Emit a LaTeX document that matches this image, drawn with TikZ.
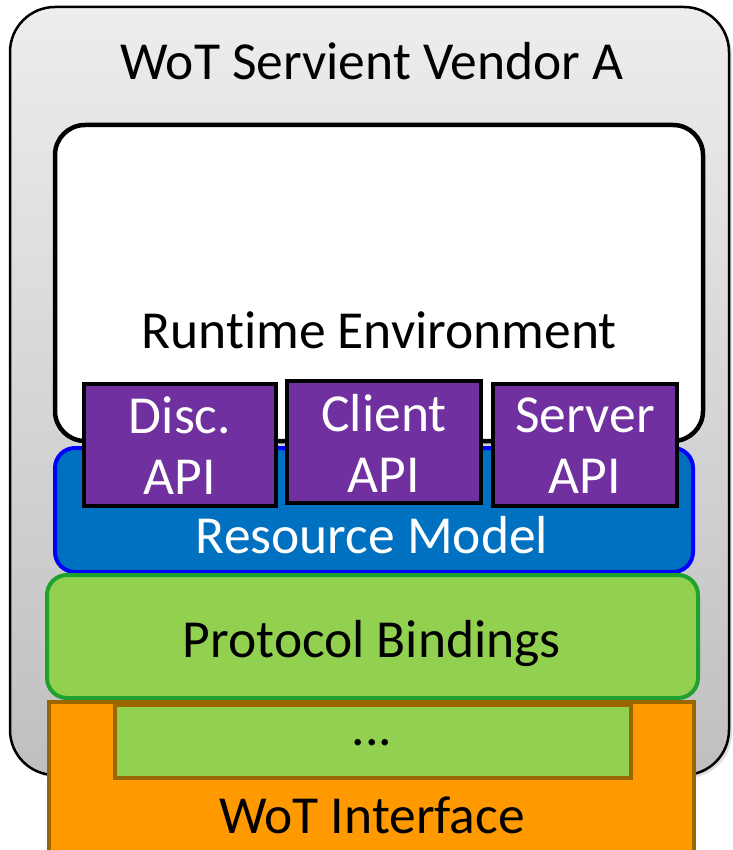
\documentclass[tikz,border=0pt]{standalone}
\usepackage{fontspec}
\setmainfont{Carlito}[Ligatures=NoCommon]
\usetikzlibrary{shadows}
\definecolor{apipurple}{HTML}{7030A0}
\definecolor{resblue}{HTML}{0070C0}
\definecolor{resborder}{HTML}{0000FF}
\definecolor{bindgreen}{HTML}{92D050}
\definecolor{bindborder}{HTML}{1EA12E}
\definecolor{ifaceorange}{HTML}{FF9900}
\definecolor{ifaceborder}{HTML}{996600}
\tikzset{
  bigtext/.style={font=\fontsize{53.5}{61}\selectfont},
  box/.style={draw, inner sep=0pt, outer sep=0pt},
  apibox/.style={box, fill=apipurple, line width=4.5pt},
  apitext/.style={bigtext, text=white, align=center, inner sep=0pt},
  lbl/.style={bigtext, anchor=base, inner sep=0pt},
}
\begin{document}
\begin{tikzpicture}[x=1pt,y=-1pt]
\useasboundingbox (0,0) rectangle (732,850);
% outer servient box
\node[box, line width=2.5pt, rounded corners=45pt, top color=black!7, bottom color=black!25,
      drop shadow={opacity=0.25, shadow xshift=3pt, shadow yshift=-3pt},
      minimum width=719pt, minimum height=768pt] (servient) at (369.5,391) {};
\node[lbl] (title) at (372,80) {WoT Servient Vendor A};
% runtime environment
\node[box, line width=4.5pt, fill=white, rounded corners=30pt,
      minimum width=648pt, minimum height=316pt] (runtime) at (379,283) {};
\node[lbl] (runtimelbl) at (379,348) {Runtime Environment};
% resource model
\node[box, line width=4pt, draw=resborder, fill=resblue, rounded corners=20pt,
      minimum width=638pt, minimum height=124pt] (resmodel) at (374,510) {};
\node[lbl, text=white] (reslbl) at (372,553) {Resource Model};
% API boxes
\node[apibox, minimum width=192pt, minimum height=122pt] (disc) at (180,445) {};
\node[apitext] (disclbl) at (180,446) {Disc.\\API};
\node[apibox, minimum width=194pt, minimum height=122pt] (client) at (384,442) {};
\node[apitext] (clientlbl) at (384,443) {Client\\API};
\node[apibox, minimum width=184pt, minimum height=122pt] (server) at (585,445) {};
\node[apitext] (serverlbl) at (585,446) {Server\\API};
% protocol bindings
\node[box, line width=4pt, draw=bindborder, fill=bindgreen, rounded corners=20pt,
      minimum width=651pt, minimum height=123pt] (bindings) at (372.5,636.5) {};
\node[lbl] (bindlbl) at (372,657) {Protocol Bindings};
% WoT interface
\node[box, line width=3.5pt, draw=ifaceborder, fill=ifaceorange,
      minimum width=645pt, minimum height=160pt] (iface) at (371.5,782) {};
\node[lbl] (ifacelbl) at (372,833) {WoT Interface};
% inner binding
\node[box, line width=3.5pt, draw=ifaceborder, fill=bindgreen,
      minimum width=516pt, minimum height=73pt] (inner) at (373,741.5) {};
\node[lbl] (innerlbl) at (372,745) {...};
\end{tikzpicture}
\end{document}
